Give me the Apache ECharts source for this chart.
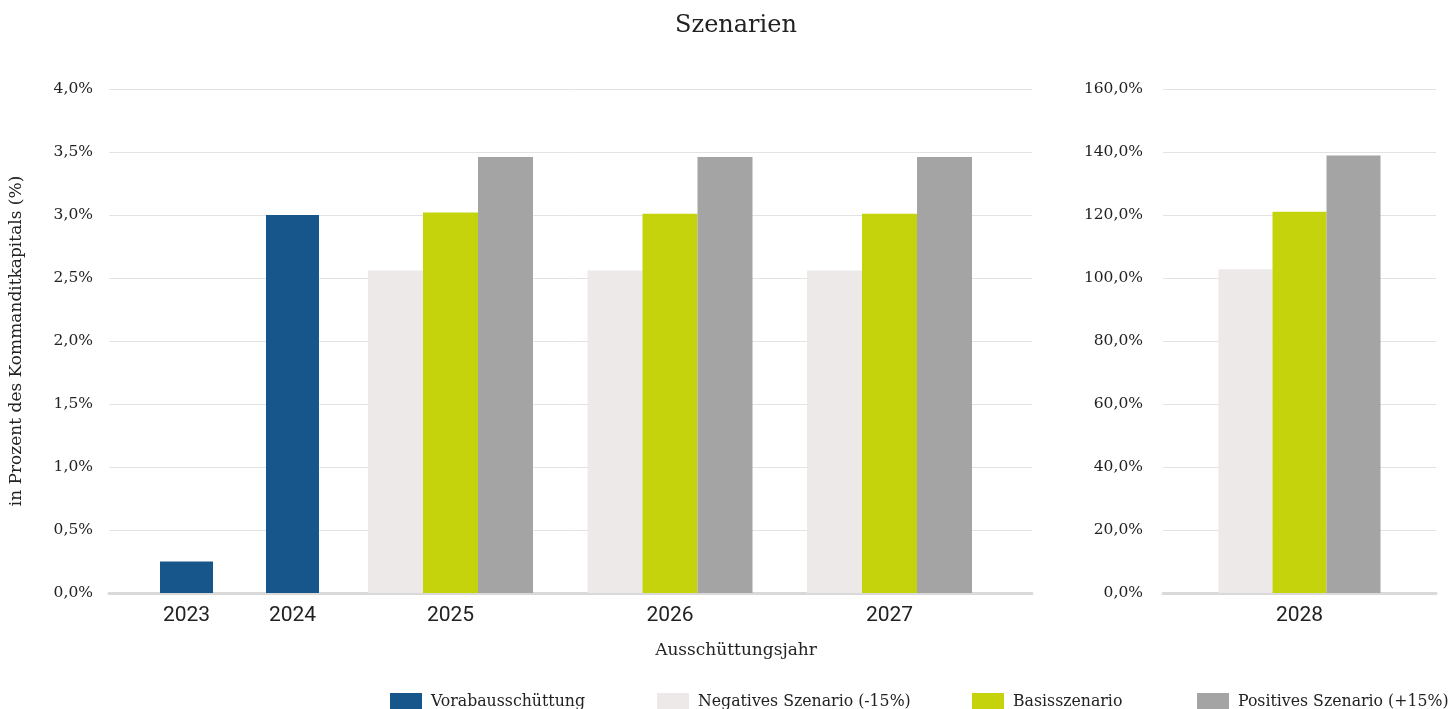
<!DOCTYPE html>
<html>
<head>
<meta charset="utf-8">
<script src="https://cdn.jsdelivr.net/npm/echarts@6/dist/echarts.min.js"></script>
<style>
  html, body { margin: 0; padding: 0; background: #fff; }
  #chart { width: 1448px; height: 709px; }
</style>
</head>
<body>
<div id="chart"></div>
<script>
// Kategorien
var vorabJahre = ['2023', '2024'];
var szenarioJahre = ['2025', '2026', '2027'];
var schlussJahr = ['2028'];

// Werte in %
var vorab = [0.25, 3.0];
var negativ = [2.56, 2.56, 2.56];
var basis = [3.02, 3.01, 3.01];
var positiv = [3.46, 3.46, 3.46];
var negativ2028 = [102.8];
var basis2028 = [121.0];
var positiv2028 = [138.9];

var namen = ['Vorabausschüttung', 'Negatives Szenario (-15%)', 'Basisszenario', 'Positives Szenario (+15%)'];
var farben = ['#17568b', '#ece9e8', '#c4d30b', '#a5a4a5'];

var serif = "'DejaVu Serif', serif";
var serifSchmal = "'DejaVu Serif Condensed', 'DejaVu Serif', serif";
var fmt = function (v) { return v.toFixed(1).replace('.', ',') + '%'; };

var chart = echarts.init(document.getElementById('chart'));

function hiddenY(gi, max, interval) {
    return { type: 'value', gridIndex: gi, min: 0, max: max, interval: interval,
        axisLabel: { show: false }, axisLine: { show: false }, axisTick: { show: false }, splitLine: { show: false } };
}
function labelX(gi, cats) {
    return { type: 'category', gridIndex: gi, data: cats,
        axisLine: { show: false }, axisTick: { show: false },
        axisLabel: { fontFamily: 'Roboto', fontSize: 21, color: '#222', margin: 12 } };
}
function backX(gi) {
    return { type: 'category', gridIndex: gi, data: [''],
        axisLine: { lineStyle: { color: '#d9d9d9', width: 3 } },
        axisTick: { show: false }, axisLabel: { show: false } };
}

var option = {
    animation: false,
    title: [
        { text: 'Szenarien', left: 731, textAlign: 'center', top: 9,
          textStyle: { fontFamily: serif, fontSize: 24, fontWeight: 'normal', color: '#222' } },
        { text: 'Ausschüttungsjahr', left: 731, textAlign: 'center', top: 637,
          textStyle: { fontFamily: serif, fontSize: 17, fontWeight: 'normal', color: '#222' } }
    ],
    legend: [
        { data: [namen[0]], left: 390, top: 692 },
        { data: [namen[1]], left: 657, top: 692 },
        { data: [namen[2]], left: 972, top: 692 },
        { data: [namen[3]], left: 1197, top: 692 }
    ].map(function (l) {
        l.itemWidth = 32; l.itemHeight = 16; l.itemGap = 0; l.icon = 'rect';
        l.padding = 0;
        l.selectedMode = false;
        l.textStyle = { fontFamily: serifSchmal, fontSize: 17.5, color: '#222', padding: [0, 0, 0, 4] };
        return l;
    }),
    grid: [
        { left: 107, width: 925, top: 89, height: 504 },   // 0 Hintergrund links
        { left: 1163, width: 273, top: 89, height: 504 },  // 1 rechts (2028)
        { left: 133.5, width: 212, top: 89, height: 504 }, // 2 Vorab
        { left: 340.75, width: 658.5, top: 89, height: 504 } // 3 Szenarien 2025-2027
    ],
    xAxis: [
        backX(0),
        { type: 'category', gridIndex: 1, data: schlussJahr,
          axisLine: { lineStyle: { color: '#d9d9d9', width: 3 } },
          axisTick: { show: false },
          axisLabel: { fontFamily: 'Roboto', fontSize: 21, color: '#222', margin: 12 } },
        labelX(2, vorabJahre),
        labelX(3, szenarioJahre)
    ],
    yAxis: [
        { type: 'value', gridIndex: 0, min: 0, max: 4, interval: 0.5,
          name: 'in Prozent des Kommanditkapitals (%)', nameLocation: 'middle', nameGap: 84, nameRotate: 90,
          nameTextStyle: { fontFamily: serif, fontSize: 17, color: '#222' },
          axisLabel: { formatter: fmt, fontFamily: serif, fontSize: 15.5, color: '#222', margin: 16 },
          axisLine: { show: false }, axisTick: { show: false },
          splitLine: { lineStyle: { color: '#e3e3e3', width: 1 } } },
        { type: 'value', gridIndex: 1, min: 0, max: 160, interval: 20,
          axisLabel: { formatter: fmt, fontFamily: serif, fontSize: 15.5, color: '#222', margin: 20 },
          axisLine: { show: false }, axisTick: { show: false },
          splitLine: { lineStyle: { color: '#e3e3e3', width: 1 } } },
        hiddenY(2, 4, 0.5),
        hiddenY(3, 4, 0.5)
    ],
    series: [
        { name: namen[0], type: 'bar', xAxisIndex: 2, yAxisIndex: 2, data: vorab, barWidth: 53,
          itemStyle: { color: farben[0] } },
        { name: namen[1], type: 'bar', xAxisIndex: 3, yAxisIndex: 3, data: negativ, barWidth: 55, barGap: '0%',
          itemStyle: { color: farben[1] } },
        { name: namen[2], type: 'bar', xAxisIndex: 3, yAxisIndex: 3, data: basis, barWidth: 55, barGap: '0%',
          itemStyle: { color: farben[2] } },
        { name: namen[3], type: 'bar', xAxisIndex: 3, yAxisIndex: 3, data: positiv, barWidth: 55, barGap: '0%',
          itemStyle: { color: farben[3] } },
        { name: namen[1], type: 'bar', xAxisIndex: 1, yAxisIndex: 1, data: negativ2028, barWidth: 54, barGap: '0%',
          itemStyle: { color: farben[1] } },
        { name: namen[2], type: 'bar', xAxisIndex: 1, yAxisIndex: 1, data: basis2028, barWidth: 54, barGap: '0%',
          itemStyle: { color: farben[2] } },
        { name: namen[3], type: 'bar', xAxisIndex: 1, yAxisIndex: 1, data: positiv2028, barWidth: 54, barGap: '0%',
          itemStyle: { color: farben[3] } }
    ]
};
chart.setOption(option);
</script>
</body>
</html>
